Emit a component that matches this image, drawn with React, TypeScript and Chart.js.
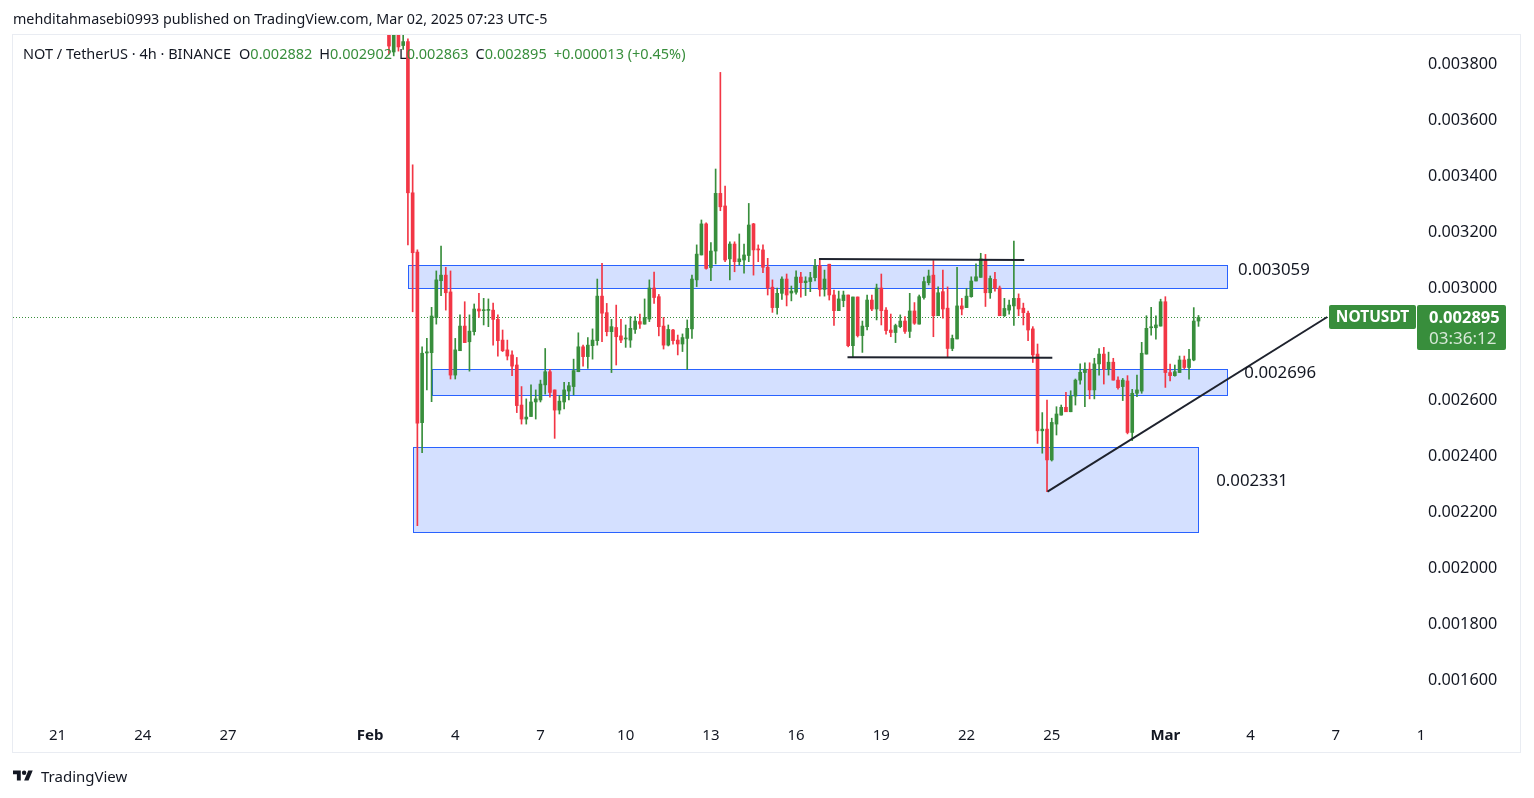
import { useEffect, useRef } from "react";
import { Chart, registerables } from "chart.js";

Chart.register(...registerables);

const FONT = "'Noto Sans', sans-serif";
const INK = "#131722";
const GREEN = "#388e3c";
const RED = "#f23645";
const ZONE_FILL = "rgba(41, 98, 255, 0.2)";
const ZONE_EDGE = "#2962ff";
const LINE_INK = "#1e222d";

// Candles (4h), prices in millionths of USDT, oldest first
const openU = [
  4000, 3843, 3980, 3866, 3880, 3340, 3128, 2519, 2768, 2769,
  2894, 3026, 3046, 2986, 2689, 2776, 2864, 2808, 2844, 2925,
  2919, 2920, 2921, 2888, 2814, 2779, 2761, 2725, 2582, 2532,
  2541, 2593, 2600, 2654, 2701, 2636, 2564, 2593, 2632, 2648,
  2701, 2790, 2755, 2794, 2812, 2971, 2912, 2844, 2859, 2829,
  2818, 2814, 2852, 2880, 2871, 2889, 3000, 2969, 2864, 2796,
  2850, 2814, 2800, 2820, 2854, 3029, 3118, 3229, 3073, 3132,
  3338, 3293, 3104, 3157, 3094, 3100, 3116, 3229, 3139, 3136,
  3074, 3003, 2930, 2981, 3032, 2982, 2985, 3039, 3019, 3023,
  3037, 3080, 2995, 3085, 2975, 2919, 2955, 2975, 2794, 2968,
  2830, 2862, 2957, 2925, 3000, 2921, 2850, 2841, 2862, 2882,
  2845, 2918, 2871, 2966, 3019, 3046, 2901, 2987, 2928, 2784,
  2818, 2936, 2930, 2969, 3025, 3038, 3100, 2983, 3031, 3000,
  2901, 2921, 2936, 2963, 2928, 2910, 2854, 2764, 2490, 2496,
  2386, 2514, 2546, 2574, 2558, 2614, 2671, 2698, 2710, 2636,
  2729, 2764, 2710, 2735, 2671, 2648, 2668, 2484, 2624, 2632,
  2764, 2858, 2858, 2864, 2951, 2698, 2687, 2698, 2743, 2716,
  2743, 2882,
];
const highU = [
  4050, 4020, 4000, 3910, 3890, 3440, 3136, 2790, 2820, 2931,
  3061, 3150, 3074, 3061, 2820, 2904, 2951, 2904, 2943, 2981,
  2963, 2961, 2946, 2904, 2850, 2814, 2776, 2752, 2648, 2604,
  2654, 2636, 2671, 2784, 2710, 2636, 2616, 2663, 2663, 2746,
  2840, 2796, 2823, 2854, 3032, 3088, 2945, 2888, 2939, 2888,
  2868, 2898, 2898, 2907, 2961, 3029, 3057, 2977, 2895, 2868,
  2852, 2832, 2836, 2886, 3046, 3154, 3243, 3233, 3162, 3425,
  3770, 3364, 3165, 3165, 3193, 3157, 3302, 3231, 3154, 3154,
  3106, 3029, 3000, 3040, 3050, 3007, 3061, 3056, 3040, 3056,
  3102, 3106, 3064, 3085, 2993, 2989, 2989, 2975, 2968, 2968,
  2882, 2975, 2975, 3014, 3050, 2930, 2907, 2871, 2904, 2898,
  2981, 2948, 2975, 3039, 3064, 3098, 3004, 3064, 3004, 2832,
  3074, 2963, 2999, 3040, 3086, 3124, 3120, 3043, 3056, 3007,
  2963, 2957, 3168, 2979, 2946, 2918, 2862, 2800, 2555, 2600,
  2535, 2576, 2582, 2627, 2633, 2675, 2729, 2733, 2733, 2749,
  2784, 2788, 2771, 2749, 2683, 2677, 2687, 2638, 2689, 2806,
  2901, 2931, 2901, 2960, 2969, 2728, 2725, 2757, 2757, 2781,
  2930, 2902,
];
const lowU = [
  3836, 3829, 3846, 3852, 3154, 2915, 2151, 2412, 2636, 2594,
  2871, 2973, 2921, 2675, 2675, 2776, 2805, 2703, 2832, 2895,
  2868, 2862, 2796, 2757, 2773, 2743, 2687, 2555, 2514, 2514,
  2541, 2532, 2593, 2621, 2610, 2463, 2550, 2568, 2600, 2618,
  2701, 2721, 2713, 2746, 2796, 2808, 2829, 2698, 2725, 2805,
  2788, 2788, 2838, 2856, 2871, 2880, 2945, 2829, 2782, 2793,
  2799, 2761, 2773, 2709, 2820, 3005, 3118, 3067, 3026, 3086,
  3276, 3094, 3029, 3058, 3082, 3053, 3094, 3046, 3094, 3055,
  2975, 2913, 2907, 2959, 2936, 2954, 2978, 2967, 2973, 2987,
  3025, 2971, 2971, 2957, 2866, 2919, 2933, 2790, 2752, 2825,
  2770, 2850, 2919, 2886, 2868, 2835, 2826, 2805, 2858, 2838,
  2823, 2870, 2871, 2960, 3011, 2826, 2901, 2892, 2752, 2776,
  2818, 2904, 2930, 2967, 3025, 3038, 2934, 2963, 2989, 2901,
  2898, 2907, 2866, 2901, 2868, 2812, 2734, 2445, 2410, 2273,
  2382, 2475, 2546, 2558, 2558, 2582, 2657, 2576, 2604, 2604,
  2689, 2657, 2689, 2671, 2639, 2598, 2479, 2455, 2612, 2624,
  2764, 2832, 2817, 2864, 2645, 2668, 2685, 2698, 2711, 2674,
  2740, 2863,
];
const closeU = [
  3864, 3990, 3861, 3880, 3340, 3126, 2517, 2767, 2772, 2900,
  3029, 3046, 2983, 2689, 2779, 2864, 2805, 2846, 2925, 2918,
  2921, 2922, 2888, 2812, 2776, 2757, 2721, 2580, 2532, 2539,
  2593, 2604, 2657, 2701, 2627, 2564, 2596, 2636, 2651, 2705,
  2790, 2755, 2796, 2814, 2971, 2910, 2844, 2862, 2826, 2814,
  2821, 2856, 2882, 2871, 2895, 3000, 2966, 2862, 2796, 2852,
  2812, 2800, 2823, 2856, 3032, 3121, 3229, 3070, 3132, 3338,
  3290, 3100, 3157, 3094, 3104, 3118, 3225, 3136, 3136, 3074,
  3000, 2930, 2981, 3032, 2975, 2989, 3039, 3019, 3025, 3037,
  3080, 2995, 3032, 2975, 2919, 2961, 2975, 2794, 2968, 2830,
  2864, 2957, 2925, 3000, 2919, 2848, 2841, 2866, 2882, 2845,
  2918, 2874, 2969, 3023, 3043, 2901, 2983, 2925, 2784, 2820,
  2936, 2925, 2971, 3025, 3040, 3104, 2983, 3034, 2999, 2901,
  2927, 2939, 2963, 2925, 2912, 2850, 2761, 2490, 2496, 2386,
  2520, 2550, 2574, 2558, 2614, 2671, 2699, 2710, 2636, 2729,
  2764, 2710, 2735, 2671, 2644, 2671, 2484, 2624, 2636, 2767,
  2856, 2860, 2868, 2951, 2698, 2687, 2701, 2743, 2716, 2746,
  2882, 2895,
];

// time axis in days since Jan 1 (Feb 1 = 31); first candle Feb 1 16:00, 4h step
const firstCandleDay = 31 + 16 / 24;
const candleStepDays = 4 / 24;
const xTickDays = [20, 23, 26, 31, 34, 37, 40, 43, 46, 49, 52, 55, 59, 62, 65, 68];
const xTickLabels = ["21", "24", "27", "Feb", "4", "7", "10", "13", "16", "19", "22", "25", "Mar", "4", "7", "1"];
const xRange = [18.43, 68.0];

const yTickValues = [0.0016, 0.0018, 0.002, 0.0022, 0.0024, 0.0026, 0.0028, 0.003, 0.0032, 0.0034, 0.0036, 0.0038];
const yRange = [0.0014643, 0.0039036];

// Drawn zones
const zoneStartDay = [32.35, 33.19, 32.52];
const zoneEndDay = [61.18, 61.18, 60.16];
const zoneTop = [0.003082, 0.00271, 0.002431];
const zoneBottom = [0.002999, 0.002617, 0.00213];
const zoneLabels = ["0.003059", "0.002696", "0.002331"];
const zoneLabelDay = [61.56, 61.78, 60.79];
const zoneLabelPrice = [0.003064, 0.002696, 0.002311];

// Drawn lines
const resistanceLine = [{ x: 46.81, y: 0.0031036 }, { x: 54.03, y: 0.0031 }];
const supportLine = [{ x: 47.81, y: 0.0027525 }, { x: 55.02, y: 0.002751 }];
const trendLine = [{ x: 54.85, y: 0.0022725 }, { x: 64.7, y: 0.0028964 }];

const symbolName = "NOTUSDT";
const countdown = "03:36:12";

const toPrice = (u: number) => u / 1e6;

export default function App() {
  const ref = useRef<HTMLCanvasElement | null>(null);

  useEffect(() => {
    const canvas = ref.current;
    if (!canvas) return;
    const days = openU.map((_, i) => firstCandleDay + i * candleStepDays);
    const colors = openU.map((o, i) => (closeU[i] >= o ? GREEN : RED));
    const lastClose = toPrice(closeU[closeU.length - 1]);

    const overlay = {
      id: "overlay",
      beforeDatasetsDraw(chart: any) {
        const { ctx, chartArea } = chart;
        const xs = chart.scales.x;
        const ys = chart.scales.y;
        ctx.save();
        ctx.beginPath();
        ctx.rect(chartArea.left, chartArea.top, chartArea.right - chartArea.left, chartArea.bottom - chartArea.top);
        ctx.clip();
        for (let i = 0; i < zoneTop.length; i++) {
          const x1 = Math.round(xs.getPixelForValue(zoneStartDay[i]));
          const x2 = Math.round(xs.getPixelForValue(zoneEndDay[i]));
          const y1 = Math.round(ys.getPixelForValue(zoneTop[i]));
          const y2 = Math.round(ys.getPixelForValue(zoneBottom[i]));
          ctx.fillStyle = ZONE_FILL;
          ctx.fillRect(x1, y1, x2 - x1, y2 - y1);
          ctx.strokeStyle = ZONE_EDGE;
          ctx.lineWidth = 1;
          ctx.strokeRect(x1 + 0.5, y1 + 0.5, x2 - x1, y2 - y1);
        }
        const py = Math.round(ys.getPixelForValue(lastClose)) + 0.5;
        ctx.setLineDash([1, 2]);
        ctx.strokeStyle = GREEN;
        ctx.lineWidth = 1;
        ctx.beginPath();
        ctx.moveTo(chartArea.left, py);
        ctx.lineTo(chartArea.right, py);
        ctx.stroke();
        ctx.restore();
      },
      afterDraw(chart: any) {
        const { ctx, chartArea } = chart;
        const xs = chart.scales.x;
        const ys = chart.scales.y;
        ctx.save();
        // frame
        ctx.strokeStyle = "#e9ecf2";
        ctx.lineWidth = 1;
        ctx.strokeRect(chartArea.left - 0.5, chartArea.top - 0.5, ys.right - chartArea.left, xs.bottom - chartArea.top);
        // zone labels
        ctx.fillStyle = INK;
        ctx.font = `16.8px ${FONT}`;
        ctx.textAlign = "left";
        ctx.textBaseline = "middle";
        for (let i = 0; i < zoneLabels.length; i++) {
          ctx.fillText(zoneLabels[i], xs.getPixelForValue(zoneLabelDay[i]), ys.getPixelForValue(zoneLabelPrice[i]));
        }
        // last price labels
        const py = Math.round(ys.getPixelForValue(lastClose));
        const r = chartArea.right;
        ctx.fillStyle = GREEN;
        ctx.beginPath();
        ctx.roundRect(r - 92, py - 12, 87, 24, 2);
        ctx.fill();
        ctx.beginPath();
        ctx.roundRect(r - 4, py - 12, 89, 45, 2);
        ctx.fill();
        ctx.fillStyle = "#ffffff";
        ctx.font = `bold 15.5px ${FONT}`;
        ctx.textAlign = "center";
        ctx.fillText(symbolName, r - 48.5, py + 1);
        ctx.textAlign = "left";
        ctx.font = `bold 16.5px ${FONT}`;
        ctx.fillText(lastClose.toFixed(6), r + 8, py + 1);
        ctx.fillStyle = "rgba(255,255,255,0.8)";
        ctx.font = `17px ${FONT}`;
        ctx.fillText(countdown, r + 8, py + 22);
        ctx.restore();
      },
    };

    const chart = new Chart(canvas, {
      type: "bar",
      data: {
        datasets: [
          { type: "line", data: resistanceLine, borderColor: LINE_INK, borderWidth: 2, pointRadius: 0, order: 0 },
          { type: "line", data: supportLine, borderColor: LINE_INK, borderWidth: 2, pointRadius: 0, order: 0 },
          { type: "line", data: trendLine, borderColor: LINE_INK, borderWidth: 2, pointRadius: 0, order: 0 },
          {
            type: "bar",
            data: days.map((d, i) => ({ x: d, y: [toPrice(openU[i]), toPrice(closeU[i])] })) as any,
            backgroundColor: colors,
            barThickness: 3,
            minBarLength: 1,
            grouped: false,
            borderWidth: 0,
            order: 1,
          },
          {
            type: "bar",
            data: days.map((d, i) => ({ x: d, y: [toPrice(lowU[i]), toPrice(highU[i])] })) as any,
            backgroundColor: colors,
            barThickness: 1,
            grouped: false,
            borderWidth: 0,
            order: 2,
          },
        ] as any,
      },
      options: {
        animation: false,
        responsive: false,
        devicePixelRatio: 1,
        events: [],
        layout: { padding: { left: 13, top: 35, right: 13, bottom: 45 } },
        plugins: { legend: { display: false }, tooltip: { enabled: false } },
        scales: {
          x: {
            type: "linear",
            min: xRange[0],
            max: xRange[1],
            offset: false,
            grid: { display: false, drawTicks: false },
            border: { display: false },
            afterBuildTicks: (s: any) => {
              s.ticks = xTickDays.map((v) => ({ value: v }));
            },
            afterFit: (s: any) => {
              s.height = 35;
            },
            ticks: {
              autoSkip: false,
              maxRotation: 0,
              padding: 9,
              color: INK,
              font: (c: any) => ({
                family: FONT,
                size: 15,
                weight: c.index !== undefined && (xTickLabels[c.index] === "Feb" || xTickLabels[c.index] === "Mar") ? "bold" : "normal",
              }),
              callback: (_v: any, i: number) => xTickLabels[i],
            },
          },
          y: {
            type: "linear",
            position: "right",
            min: yRange[0],
            max: yRange[1],
            grid: { display: false, drawTicks: false },
            border: { display: false },
            afterBuildTicks: (s: any) => {
              s.ticks = yTickValues.map((v) => ({ value: v }));
            },
            afterFit: (s: any) => {
              s.width = 100;
            },
            ticks: {
              padding: 7,
              color: INK,
              font: { family: FONT, size: 16.2 },
              callback: (v: any) => Number(v).toFixed(6),
            },
          },
        },
      } as any,
      plugins: [overlay],
    });
    return () => chart.destroy();
  }, []);

  const greenVal = { color: GREEN };
  return (
    <div style={{ position: "fixed", left: 0, top: 0, width: 1534, height: 798, background: "#ffffff", overflow: "hidden" }}>
      <canvas ref={ref} width={1534} height={798} style={{ position: "absolute", left: 0, top: 0 }} />
      <div style={{ position: "absolute", left: 13, top: 9, font: `14.3px ${FONT}`, color: INK, whiteSpace: "nowrap", lineHeight: "20px" }}>
        mehditahmasebi0993 published on TradingView.com, Mar 02, 2025 07:23 UTC-5
      </div>
      <div style={{ position: "absolute", left: 23, top: 43, font: `14.5px ${FONT}`, color: INK, whiteSpace: "nowrap", lineHeight: "20px" }}>
        <span>NOT / TetherUS · 4h · BINANCE</span>
        <span style={{ marginLeft: 8 }}>O</span><span style={greenVal}>0.002882</span>
        <span style={{ marginLeft: 7 }}>H</span><span style={greenVal}>0.002902</span>
        <span style={{ marginLeft: 7 }}>L</span><span style={greenVal}>0.002863</span>
        <span style={{ marginLeft: 7 }}>C</span><span style={greenVal}>0.002895</span>
        <span style={{ marginLeft: 7, color: GREEN }}>+0.000013 (+0.45%)</span>
      </div>
      <div style={{ position: "absolute", left: 13, top: 766, display: "flex", alignItems: "center", font: `15px ${FONT}`, color: INK, whiteSpace: "nowrap" }}>
        <svg width="20" height="16" viewBox="0 0 36 28" style={{ marginRight: 8 }}>
          <path d="M14 22H7V11H0V4h14v18z" fill={INK} />
          <path d="M28 22h-8l7.5-18h8L28 22z" fill={INK} />
          <circle cx="20" cy="8" r="4" fill={INK} />
        </svg>
        <span>TradingView</span>
      </div>
    </div>
  );
}
